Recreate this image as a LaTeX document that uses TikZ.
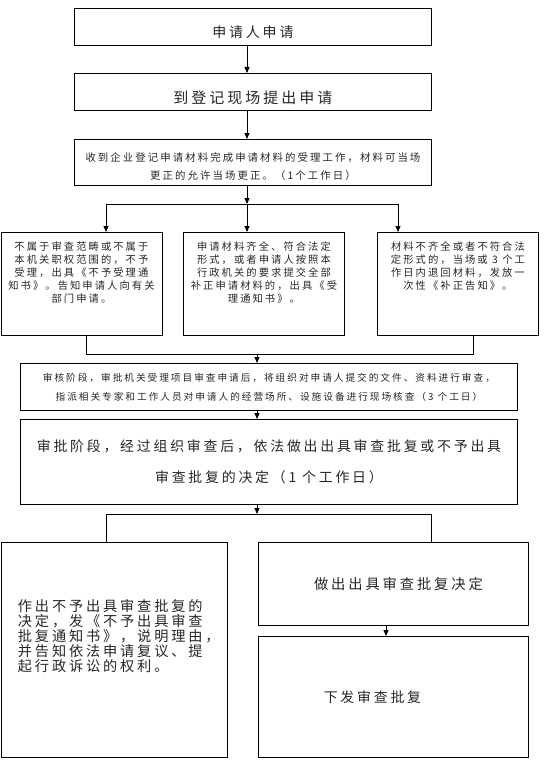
\documentclass[tikz,border=0pt]{standalone}
\usepackage{fontspec}
\newfontfamily\cjk[LetterSpace=20]{Noto Sans CJK SC}
\usetikzlibrary{arrows.meta,positioning}
\newcommand{\fs}[2]{\fontsize{#1}{#2}\selectfont}

\begin{document}
\begin{tikzpicture}[x=1pt, y=-1pt,
  box/.style={draw=black, line width=0.9pt, inner sep=0pt, anchor=north west,
              align=center, font=\cjk, text=black!85},
  arr/.style={-{Triangle[length=6pt,width=5pt]}, line width=0.9pt},
  link/.style={line width=0.9pt},
]
  \useasboundingbox (0,0) rectangle (548,760);

  % main column
  \node[box, minimum width=357pt, minimum height=37pt, font=\cjk\fs{14}{16},
        text height=22pt, text depth=1pt] (apply) at (74,8) {申请人申请};
  \node[box, minimum width=357pt, minimum height=37pt, font=\cjk\fs{15}{17},
        text height=25pt, text depth=1pt] (onsite) at (74,73) {到登记现场提出申请};
  \node[box, minimum width=357pt, minimum height=46pt, font=\cjk\fs{10.4}{18}] (receive) at (74,139)
    {\rule{0pt}{17pt}收到企业登记申请材料完成申请材料的受理工作，材料可当场\\更正的允许当场更正。（1个工作日）};

  % three outcomes
  \node[box, minimum width=161pt, minimum height=103pt] (outscope) at (0.5,232)
    {\parbox[c][103pt][t]{161pt}{\centering\fs{10.3}{13}\rule{0pt}{18pt}不属于审查范畴或不属于\\本机关职权范围的，不予\\受理，出具《不予受理通\\知书》。告知申请人向有关\\部门申请。}};
  \node[box, minimum width=161pt, minimum height=103pt] (accept) at (183,232)
    {\parbox[c][103pt][t]{161pt}{\centering\fs{10.3}{13}\rule{0pt}{18pt}申请材料齐全、符合法定\\形式，或者申请人按照本\\行政机关的要求提交全部\\补正申请材料的，出具《受\\理通知书》。}};
  \node[box, minimum width=161pt, minimum height=103pt] (supplement) at (377,232)
    {\parbox[c][103pt][t]{161pt}{\centering\fs{10.3}{13}\rule{0pt}{18pt}材料不齐全或者不符合法\\定形式的，当场或 3 个工\\作日内退回材料，发放一\\次性《补正告知》。}};

  \node[box, minimum width=497pt, minimum height=47pt, font=\cjk\fs{9.7}{19}] (review) at (20,363)
    {审核阶段，审批机关受理项目审查申请后，将组织对申请人提交的文件、资料进行审查，\\指派相关专家和工作人员对申请人的经营场所、设施设备进行现场核查（3 个工日）};
  \node[box, minimum width=497pt, minimum height=85pt, font=\cjk\fs{13.9}{31}] (approve) at (20,419)
    {审批阶段，经过组织审查后，依法做出出具审查批复或不予出具\\审查批复的决定（1 个工作日）};

  % decision
  \node[box, minimum width=226pt, minimum height=215pt] (refuse) at (0.5,542)
    {\parbox[c][215pt][c]{226pt}{\raggedright\leftskip=17pt\fs{14.2}{15}作出不予出具审查批复的\\决定，发《不予出具审查\\批复通知书》，说明理由，\\并告知依法申请复议、提\\起行政诉讼的权利。\par\vspace{28pt}}};
  \node[box, minimum width=270pt, minimum height=83pt, font=\cjk\fs{14.3}{16}] (grant) at (258,542)
    {\hspace*{10pt}做出出具审查批复决定};
  \node[box, minimum width=270pt, minimum height=121pt, font=\cjk\fs{13.9}{16}] (issue) at (258,636)
    {下发审查批复\hspace*{42pt}};

  % connectors
  \coordinate (xa) at (247,0);
  \draw[arr] (apply.south -| xa) -- (onsite.north -| xa);
  \draw[arr] (onsite.south -| xa) -- (receive.north -| xa);
  \coordinate (sm) at (247,204);
  \coordinate (sl) at (106,204);
  \coordinate (sr) at (398,204);
  \draw[arr] (receive.south -| sm) -- (sm);
  \draw[link] (sl) -- (sr);
  \draw[arr] (sl) -- (sl |- outscope.north);
  \draw[arr] (sm) -- (sm |- accept.north);
  \draw[arr] (sr) -- (sr |- supplement.north);
  \coordinate (jl) at (86,354);
  \coordinate (jr) at (473,354);
  \coordinate (jm) at (257,354);
  \draw[link] (outscope.south -| jl) -- (jl) -- (jr) -- (supplement.south -| jr);
  \draw[arr] (jm) -- (jm |- review.north);
  \draw[arr] (review.south -| jm) -- (approve.north -| jm);
  \coordinate (km) at (257,514);
  \coordinate (kl) at (106,514);
  \coordinate (kr) at (431,514);
  \draw[arr] (approve.south -| km) -- (km);
  \draw[link] (refuse.north -| kl) -- (kl) -- (kr) -- (grant.north -| kr);
  \coordinate (xb) at (386,0);
  \draw[arr] (grant.south -| xb) -- (issue.north -| xb);
\end{tikzpicture}
\end{document}
